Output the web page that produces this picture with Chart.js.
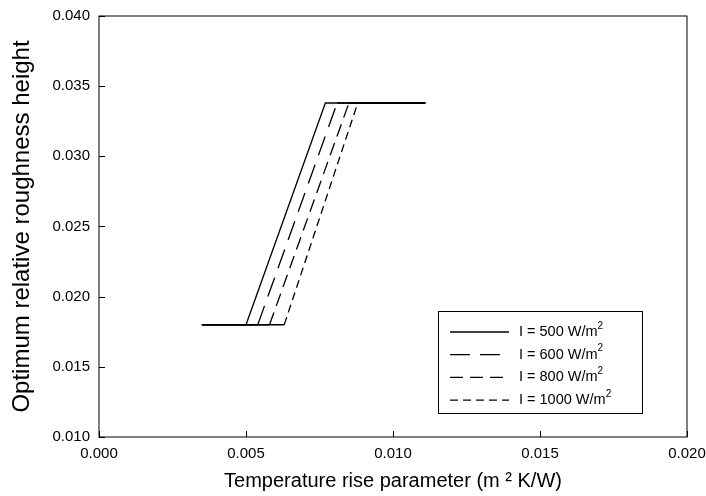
<!DOCTYPE html>
<html>
<head>
<meta charset="utf-8">
<script src="https://cdn.jsdelivr.net/npm/chart.js@4"></script>
<style>
  html, body { margin: 0; padding: 0; background: #fff; }
  #wrap { width: 706px; height: 496px; }
</style>
</head>
<body>
<div id="wrap"><canvas id="chart" width="706" height="496"></canvas></div>
<script>
// values
const seriesLabels = ["I = 500 W/m", "I = 600 W/m", "I = 800 W/m", "I = 1000 W/m"];
const dashes = [[], [20, 10], [13, 7], [8, 5]];
const xStart = 0.0035;
const xEnd = 0.0111;
const rampStart = [0.0050, 0.0054, 0.0058, 0.0063];
const rampEnd = [0.0077, 0.0081, 0.0085, 0.0088];
const yLow = 0.0180;
const yHigh = 0.0338;
const xTicks = [0, 0.005, 0.010, 0.015, 0.020];
const yTicks = [0.010, 0.015, 0.020, 0.025, 0.030, 0.035, 0.040];

const FONT = "'Liberation Sans', Arial, sans-serif";

function buildData(i) {
  return [
    { x: xStart, y: yLow },
    { x: rampStart[i], y: yLow },
    { x: rampEnd[i], y: yHigh },
    { x: xEnd, y: yHigh }
  ];
}

const datasets = seriesLabels.map((label, i) => ({
  label: label,
  data: buildData(i),
  borderColor: "#000",
  borderWidth: 1.3,
  pointRadius: 0,
  fill: false,
  tension: 0,
  // flat parts look solid in the original, only the ramps are dashed
  segment: {
    borderDash: ctx => (ctx.p0.parsed.y === ctx.p1.parsed.y ? [] : dashes[i])
  }
}));

// frame, inward ticks and the boxed legend
const framePlugin = {
  id: "frame",
  afterDraw(chart) {
    const { ctx, chartArea: a, scales } = chart;
    ctx.save();
    ctx.strokeStyle = "#000";
    ctx.lineWidth = 1;
    ctx.strokeRect(a.left, a.top, a.right - a.left, a.bottom - a.top);

    ctx.beginPath();
    xTicks.forEach(v => {
      const px = Math.round(scales.x.getPixelForValue(v)) + 0.5;
      ctx.moveTo(px, a.bottom);
      ctx.lineTo(px, a.bottom - 6);
    });
    yTicks.forEach(v => {
      const py = Math.round(scales.y.getPixelForValue(v)) + 0.5;
      ctx.moveTo(a.left, py);
      ctx.lineTo(a.left + 6, py);
    });
    ctx.stroke();

    // legend box
    const bx = a.left + 339, by = a.top + 295, bw = 204, bh = 102;
    ctx.strokeRect(bx + 0.5, by + 0.5, bw, bh);
    ctx.textBaseline = "middle";
    ctx.fillStyle = "#000";
    seriesLabels.forEach((label, i) => {
      const ry = by + 21 + i * 22.7;
      ctx.beginPath();
      ctx.lineWidth = 1.3;
      ctx.setLineDash(dashes[i]);
      ctx.moveTo(bx + 12, ry);
      ctx.lineTo(bx + 71, ry);
      ctx.stroke();
      ctx.setLineDash([]);
      ctx.font = "14.5px " + FONT;
      ctx.fillText(label, bx + 81, ry);
      const w = ctx.measureText(label).width;
      ctx.font = "10px " + FONT;
      ctx.fillText("2", bx + 81 + w, ry - 6);
    });
    ctx.restore();
  }
};

new Chart(document.getElementById("chart"), {
  type: "line",
  data: { datasets: datasets },
  plugins: [framePlugin],
  options: {
    responsive: false,
    animation: false,
    layout: { padding: { left: 0, right: 19, top: 16, bottom: 0 } },
    plugins: {
      legend: { display: false },
      tooltip: { enabled: false }
    },
    scales: {
      x: {
        type: "linear",
        min: 0,
        max: 0.02,
        afterBuildTicks: scale => { scale.ticks = xTicks.map(v => ({ value: v })); },
        afterFit: scale => {
          scale.height = 59;
          scale.paddingLeft = 0;
          scale.paddingRight = 0;
        },
        grid: { display: false, drawTicks: false },
        border: { display: false },
        ticks: {
          padding: 8,
          color: "#000",
          font: { family: FONT, size: 15 },
          maxRotation: 0,
          callback: v => v.toFixed(3)
        },
        title: {
          display: true,
          text: "Temperature rise parameter (m \u00b2 K/W)",
          color: "#000",
          font: { family: FONT, size: 20 },
          padding: { top: 0, bottom: 3 }
        }
      },
      y: {
        type: "linear",
        min: 0.01,
        max: 0.04,
        afterBuildTicks: scale => { scale.ticks = yTicks.map(v => ({ value: v })); },
        afterFit: scale => {
          scale.width = 99;
          scale.paddingTop = 0;
          scale.paddingBottom = 0;
        },
        grid: { display: false, drawTicks: false },
        border: { display: false },
        ticks: {
          padding: 9,
          color: "#000",
          font: { family: FONT, size: 15 },
          callback: v => v.toFixed(3)
        },
        title: {
          display: true,
          text: "Optimum relative roughness height",
          color: "#000",
          font: { family: FONT, size: 24 },
          padding: { top: 8, bottom: 0 }
        }
      }
    }
  }
});
</script>
</body>
</html>
